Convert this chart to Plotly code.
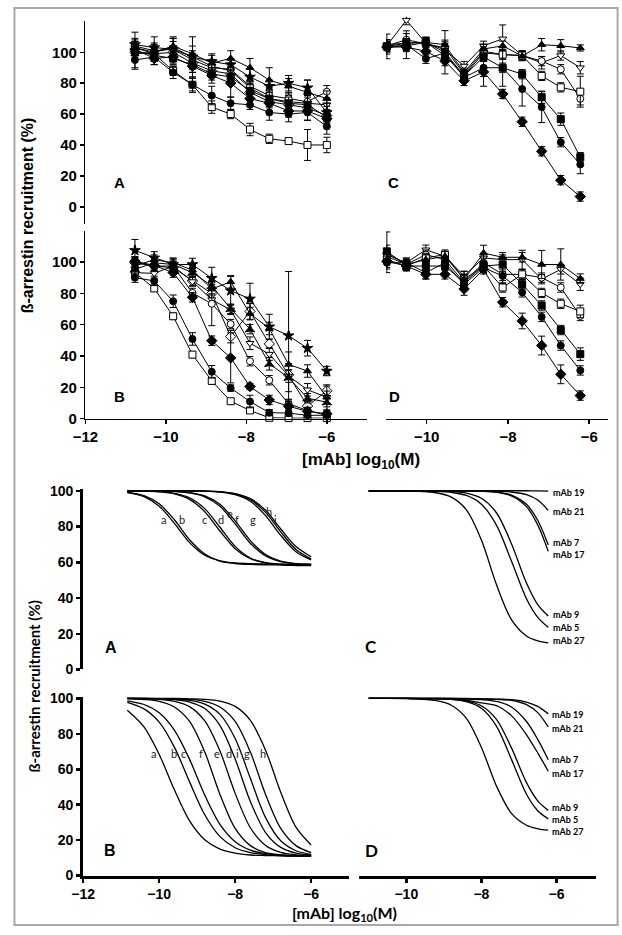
import plotly.graph_objects as go

W, H = 622, 935

# ---------------- data: top panels (measured points) ----------------
X_TOP_AB = [-10.77, -10.29, -9.82, -9.34, -8.86, -8.39, -7.91, -7.43, -6.95, -6.48, -6.0]
X_TOP_CD = [-10.98, -10.5, -10.02, -9.55, -9.08, -8.6, -8.13, -7.65, -7.17, -6.7, -6.22]

ta_sq_open = [103, 99, 88, 79, 64.5, 60, 50, 44, 42.5, 40, 40]
ta_circ_fill = [95, 97, 87, 79, 72, 67, 66, 61, 60, 61, 52]
ta_diam_fill = [102, 96, 97, 91, 85, 80, 70, 67, 62, 62, 57]
ta_sq_fill = [101, 98, 96, 92, 86, 84, 75, 70, 67, 66, 58]
ta_tri_fill = [99, 100, 104, 99, 93, 96, 90, 82, 78, 74, 70]
ta_star = [105, 103, 102, 97, 94, 92, 84, 78, 80, 77, 61]
ta_circ_open = [104, 101, 102, 95, 90, 89, 78, 72, 70, 68, 74.5]
ta_tri_down = [103, 100, 103, 97, 91, 88, 77, 70, 68, 67, 66]
ta_diam_open = [100, 99, 100, 93, 88, 86, 74, 68, 66, 64, 59]
ta_sq_open_err = [4, 4, 3, 4, 4, 3, 4, 3, 2, 10, 5]
ta_circ_fill_err = [6, 5, 4, 5, 6, 4, 3, 5, 5, 5, 5]
ta_diam_fill_err = [4, 4, 4, 4, 5, 9, 4, 5, 4, 6, 5]
ta_sq_fill_err = [3, 4, 4, 5, 4, 4, 5, 5, 4, 5, 4]
ta_tri_fill_err = [9, 6, 5, 5, 5, 5, 6, 8, 5, 8, 5]
ta_star_err = [8, 7, 8, 13, 5, 4, 5, 4, 5, 5, 6]
ta_circ_open_err = [5, 4, 5, 4, 4, 4, 4, 5, 4, 5, 4]
ta_tri_down_err = [4, 4, 6, 4, 4, 4, 4, 4, 4, 6, 4]
ta_diam_open_err = [4, 4, 4, 4, 4, 4, 4, 4, 4, 4, 4]

tb_sq_open = [93.3, 83.2, 65.4, 40.9, 24.1, 11.1, 5.2, 0.5, 0.3, 0.3, 0.3]
tb_circ_fill = [90.1, 88.0, 75.0, 50.9, 29.9, 19.5, 10.9, 3.8, 3.5, 2.1, 2.1]
tb_diam_fill = [100.6, 97.9, 93.3, 77.5, 49.8, 38.8, 20.5, 11.9, 7.9, 4.6, 3.1]
tb_circ_open = [100.0, 97.5, 97.5, 80.3, 73.4, 60.4, 36.7, 24.5, 9.4, 5.2, 2.1]
tb_diam_open = [99.6, 97.5, 96.5, 88.0, 80.0, 52.4, 68.5, 47.8, 28.0, 8.0, 17.8]
tb_tri_down = [93.3, 92.8, 97.5, 87.6, 76.0, 69.5, 48.2, 41.2, 27.2, 18.4, 13.6]
tb_star = [107.5, 102.7, 98.5, 98.5, 89.7, 81.8, 76.5, 58.7, 53.0, 45.0, 30.4]
tb_tri_fill = [97.5, 101.6, 99.6, 94.9, 82.8, 87.4, 67.1, 57.6, 34.6, 30.4, 13.6]
tb_star2 = [95.4, 99.6, 98.5, 93.3, 84.9, 70.2, 57.2, 35.0, 26.2, 13.0, 10.5]
tb_sq_open_err = [3, 2, 2, 2, 2, 1, 1, 1, 1, 1, 1]
tb_circ_fill_err = [3, 3, 4, 4, 4, 2, 4, 2, 2, 1, 1]
tb_diam_fill_err = [3, 3, 3, 3, 3, 16, 2, 3, 3, 2, 2]
tb_circ_open_err = [3, 3, 3, 3, 14, 3, 3, 3, 3, 2, 2]
tb_diam_open_err = [3, 3, 3, 3, 3, 4, 5, 3, 3, 3, 3]
tb_tri_down_err = [3, 3, 3, 3, 3, 3, 4, 4, 4, 4, 8]
tb_star_err = [7, 4, 4, 4, 7, 9, 10, 8, 41, 5, 3]
tb_tri_fill_err = [3, 3, 3, 3, 3, 4, 4, 4, 8, 4, 4]
tb_star2_err = [3, 3, 3, 3, 3, 3, 3, 4, 9, 3, 3]

tc_tri_fill = [104.9, 105.9, 106.4, 104.9, 86.8, 102.1, 104.2, 97.5, 104.9, 104.2, 102.8]
tc_tri_down = [104.2, 120.8, 105.9, 101.7, 91.1, 104.2, 108.7, 97.9, 93.2, 97.9, 90.0]
tc_circ_open = [104.2, 108.1, 105.5, 102.8, 85.8, 100.6, 98.5, 97.9, 94.3, 89.0, 69.9]
tc_sq_open = [103.8, 104.2, 106.4, 100.0, 84.7, 99.6, 98.5, 97.9, 84.7, 77.3, 74.5]
tc_sq_fill = [103.8, 105.9, 106.4, 97.9, 84.7, 97.0, 90.0, 85.8, 70.9, 56.7, 32.1]
tc_circ_fill = [102.8, 104.9, 95.8, 99.6, 83.7, 90.0, 90.0, 76.2, 64.5, 41.8, 27.4]
tc_diam_fill = [103.4, 103.4, 100.6, 94.3, 81.5, 87.3, 73.0, 55.0, 35.9, 17.2, 6.6]
tc_tri_fill_err = [3, 3, 3, 3, 3, 3, 3, 3, 4, 4, 2]
tc_tri_down_err = [4, 3, 4, 4, 3, 3, 9, 3, 4, 3, 4]
tc_circ_open_err = [4, 4, 4, 4, 3, 3, 3, 3, 3, 3, 4]
tc_sq_open_err = [8, 3, 3, 14, 3, 3, 3, 3, 3, 3, 10]
tc_sq_fill_err = [3, 3, 3, 3, 3, 3, 3, 3, 4, 4, 3]
tc_circ_fill_err = [4, 9, 3, 3, 3, 12, 12, 11, 10, 3, 6]
tc_diam_fill_err = [3, 3, 3, 3, 3, 3, 3, 3, 3, 3, 3]

td_tri_fill = [106.3, 98.5, 101.6, 103.7, 89.1, 105.8, 103.1, 103.1, 98.5, 98.5, 89.5]
td_tri_down = [104.8, 99.6, 107.9, 103.7, 91.2, 102.7, 101.6, 101.6, 89.1, 95.4, 85.9]
td_circ_open = [103.7, 98.5, 104.8, 101.6, 87.0, 99.6, 92.2, 92.2, 90.1, 83.8, 65.6]
td_sq_open = [101.6, 97.5, 102.7, 104.8, 89.1, 97.5, 83.8, 92.2, 80.3, 73.4, 68.5]
td_sq_fill = [106.9, 97.5, 97.5, 97.5, 87.0, 97.5, 98.5, 85.9, 72.3, 56.6, 41.2]
td_circ_fill = [99.6, 99.6, 93.3, 99.6, 85.9, 96.4, 91.2, 80.7, 65.0, 46.7, 30.8]
td_diam_fill = [100.6, 97.5, 92.2, 92.2, 82.8, 95.4, 74.4, 62.4, 46.7, 28.3, 14.7]
td_tri_fill_err = [13, 3, 3, 3, 3, 5, 3, 3, 9, 10, 3]
td_tri_down_err = [3, 3, 3, 3, 3, 3, 3, 6, 3, 3, 4]
td_circ_open_err = [3, 3, 3, 3, 3, 3, 6, 3, 3, 3, 3]
td_sq_open_err = [3, 3, 3, 3, 5, 3, 3, 3, 3, 3, 4]
td_sq_fill_err = [4, 3, 3, 3, 3, 3, 3, 3, 3, 3, 4]
td_circ_fill_err = [4, 3, 4, 3, 3, 3, 3, 3, 3, 3, 3]
td_diam_fill_err = [4, 3, 3, 3, 4, 3, 3, 5, 6, 6, 3]

X_FIT_AB = [-10.84, -10.4, -10.0, -9.6, -9.2, -8.8, -8.4, -8.0, -7.6, -7.2, -6.8, -6.4, -6.0]
X_FIT_CD = [-11.0, -10.0, -9.2, -8.8, -8.4, -8.0, -7.6, -7.2, -6.8, -6.5, -6.22]

fa_a = [99.0, 96.7, 91.4, 81.8, 71.0, 63.9, 60.8, 59.6, 59.2, 59.1, 59.0, 59.0, 59.0]
fa_b = [99.1, 97.3, 92.7, 83.8, 72.6, 64.6, 60.7, 59.3, 58.8, 58.6, 58.5, 58.5, 58.5]
fa_c = [99.9, 99.8, 99.4, 98.3, 95.2, 88.3, 77.5, 67.6, 62.0, 59.8, 58.9, 58.6, 58.5]
fa_d = [100.0, 99.8, 99.5, 98.6, 96.1, 90.0, 79.6, 68.9, 62.4, 59.6, 58.5, 58.2, 58.1]
fa_e = [100.0, 100.0, 99.9, 99.6, 98.8, 96.6, 91.3, 81.5, 70.6, 63.5, 60.3, 59.1, 58.7]
fa_f = [100.0, 100.0, 99.9, 99.7, 99.0, 97.1, 92.4, 83.2, 72.1, 64.3, 60.6, 59.2, 58.8]
fa_g = [100.0, 100.0, 100.0, 100.0, 99.9, 99.8, 99.3, 97.8, 94.1, 86.1, 75.0, 65.9, 61.3]
fa_h = [100.0, 100.0, 100.0, 100.0, 99.9, 99.8, 99.4, 98.2, 95.0, 87.9, 77.0, 67.2, 61.9]
fa_i = [100.0, 100.0, 100.0, 100.0, 99.9, 99.8, 99.5, 98.4, 95.6, 89.1, 78.6, 68.8, 63.1]

fb_a = [93.4, 84.0, 68.4, 48.4, 30.9, 20.2, 14.9, 12.6, 11.6, 11.3, 11.1, 11.0, 11.0]
fb_b = [97.8, 94.1, 86.6, 72.5, 52.9, 34.3, 22.0, 15.7, 13.0, 11.8, 11.3, 11.1, 11.0]
fb_c = [98.7, 96.6, 91.9, 82.1, 65.6, 45.4, 28.9, 19.1, 14.4, 12.4, 11.6, 11.2, 11.1]
fb_f = [99.8, 99.4, 98.4, 95.2, 87.0, 69.7, 45.8, 26.6, 16.9, 13.0, 11.7, 11.2, 11.1]
fb_e = [100.0, 99.8, 99.5, 98.4, 95.4, 87.3, 70.3, 46.4, 27.0, 17.0, 13.1, 11.7, 11.2]
fb_d = [100.0, 99.9, 99.8, 99.3, 98.0, 94.3, 84.7, 65.8, 41.8, 24.3, 15.9, 12.7, 11.6]
fb_i = [100.0, 100.0, 99.9, 99.6, 98.9, 96.8, 91.0, 77.4, 54.9, 32.7, 19.6, 14.0, 12.0]
fb_g = [100.0, 100.0, 99.9, 99.8, 99.4, 98.4, 95.2, 87.0, 69.7, 45.8, 26.6, 16.9, 13.0]
fb_h = [100.0, 100.0, 100.0, 100.0, 99.8, 99.5, 98.5, 95.5, 87.6, 70.8, 47.0, 27.3, 17.2]

fc_mab19 = [100, 100, 100, 100, 100, 100, 100, 100, 100, 99.9, 99.8]
fc_mab21 = [100, 100, 100, 100, 100, 99.9, 99.8, 99.3, 97.8, 94.8, 89.0]
fc_mab7 = [100, 100, 100, 100, 99.9, 99.8, 99.3, 97.6, 92.4, 83.5, 69.7]
fc_mab17 = [100, 100, 100, 100, 99.9, 99.7, 99.1, 97.1, 91.1, 80.9, 66.1]
fc_mab9 = [100, 100, 99.9, 99.6, 98.7, 95.8, 87.7, 70.4, 48.4, 36.3, 29.9]
fc_mab5 = [100, 100, 99.7, 99.1, 97.4, 92.5, 80.8, 60.7, 39.6, 29.2, 23.6]
fc_mab27 = [100, 99.9, 98.9, 96.4, 89.3, 72.4, 47.5, 27.9, 18.7, 16.0, 14.9]

fd_mab19 = [100, 100, 100, 100, 100, 99.8, 99.6, 99.3, 98.0, 95.5, 91.3]
fd_mab21 = [100, 100, 100, 100, 99.9, 99.8, 99.5, 99.0, 96.5, 92.0, 83.9]
fd_mab7 = [100, 100, 100, 99.9, 99.7, 99.3, 98.3, 95.2, 87.0, 76.9, 65.4]
fd_mab17 = [100, 100, 99.8, 99.5, 99.0, 97.5, 96.0, 90.3, 79.5, 69.3, 58.9]
fd_mab9 = [100, 100, 99.9, 99.6, 98.7, 95.9, 88.2, 72.1, 52.5, 42.2, 36.8]
fd_mab5 = [100, 100, 99.8, 99.5, 98.2, 94.5, 84.4, 65.6, 45.9, 36.6, 32.0]
fd_mab27 = [100, 99.9, 98.8, 96.2, 88.8, 72.3, 50.6, 35.1, 28.4, 26.4, 25.6]

MAB_LABELS = ["mAb 19", "mAb 21", "mAb 7", "mAb 17", "mAb 9", "mAb 5", "mAb 27"]
LETTERS_A = ["a", "b", "c", "d", "e", "f", "g", "h", "i"]
LETTERS_B = ["a", "b", "c", "f", "e", "d", "i", "g", "h"]
Y_TICKS = [0, 20, 40, 60, 80, 100]
X_TICKS_AB = [-12, -10, -8, -6]
X_TICKS_CD = [-10, -8, -6]

# ---------------- helpers ----------------
def fx(p):
    return p / W


def fy(p):
    return 1 - p / H


fig = go.Figure()


def marker(symbol, filled, size):
    return dict(symbol=symbol, size=size, color="black" if filled else "white",
                line=dict(color="black", width=1))


def add_top(x, y, err, symbol, filled, xa, ya, size=7):
    fig.add_trace(go.Scatter(
        x=x, y=y, mode="lines+markers", xaxis=xa, yaxis=ya,
        line=dict(color="black", width=1), marker=marker(symbol, filled, size),
        error_y=dict(type="data", array=err, visible=True, color="black", thickness=1, width=3.5),
        cliponaxis=False, showlegend=False, hoverinfo="skip"))


def add_fit(x, y, xa, ya):
    fig.add_trace(go.Scatter(
        x=x, y=y, mode="lines", xaxis=xa, yaxis=ya,
        line=dict(color="black", width=1.3, shape="spline", smoothing=0.9),
        showlegend=False, hoverinfo="skip"))


# top A (x / y)
for ys, er, sym, fl, sz in [
    (ta_diam_open, ta_diam_open_err, "diamond", False, 8),
    (ta_tri_down, ta_tri_down_err, "triangle-down", False, 7),
    (ta_circ_open, ta_circ_open_err, "circle", False, 7),
    (ta_sq_open, ta_sq_open_err, "square", False, 7),
    (ta_star, ta_star_err, "star", True, 8),
    (ta_tri_fill, ta_tri_fill_err, "triangle-up", True, 7),
    (ta_sq_fill, ta_sq_fill_err, "square", True, 7),
    (ta_diam_fill, ta_diam_fill_err, "diamond", True, 8),
    (ta_circ_fill, ta_circ_fill_err, "circle", True, 7)]:
    add_top(X_TOP_AB, ys, er, sym, fl, "x", "y", sz)

# top C (x2 / y2)
for ys, er, sym, fl, sz in [
    (tc_tri_down, tc_tri_down_err, "triangle-down", False, 7),
    (tc_circ_open, tc_circ_open_err, "circle", False, 7),
    (tc_sq_open, tc_sq_open_err, "square", False, 7),
    (tc_tri_fill, tc_tri_fill_err, "triangle-up", True, 7),
    (tc_sq_fill, tc_sq_fill_err, "square", True, 7),
    (tc_circ_fill, tc_circ_fill_err, "circle", True, 7),
    (tc_diam_fill, tc_diam_fill_err, "diamond", True, 8)]:
    add_top(X_TOP_CD, ys, er, sym, fl, "x2", "y2", sz)

# top B (x3 / y3)
for ys, er, sym, fl, sz in [
    (tb_diam_open, tb_diam_open_err, "diamond", False, 8),
    (tb_tri_down, tb_tri_down_err, "triangle-down", False, 7),
    (tb_circ_open, tb_circ_open_err, "circle", False, 7),
    (tb_sq_open, tb_sq_open_err, "square", False, 7),
    (tb_star, tb_star_err, "star", True, 8),
    (tb_star2, tb_star2_err, "star-triangle-up", True, 7),
    (tb_tri_fill, tb_tri_fill_err, "triangle-up", True, 7),
    (tb_diam_fill, tb_diam_fill_err, "diamond", True, 8),
    (tb_circ_fill, tb_circ_fill_err, "circle", True, 7)]:
    add_top(X_TOP_AB, ys, er, sym, fl, "x3", "y3", sz)

# top D (x4 / y4)
for ys, er, sym, fl, sz in [
    (td_tri_down, td_tri_down_err, "triangle-down", False, 7),
    (td_circ_open, td_circ_open_err, "circle", False, 7),
    (td_sq_open, td_sq_open_err, "square", False, 7),
    (td_tri_fill, td_tri_fill_err, "triangle-up", True, 7),
    (td_sq_fill, td_sq_fill_err, "square", True, 7),
    (td_circ_fill, td_circ_fill_err, "circle", True, 7),
    (td_diam_fill, td_diam_fill_err, "diamond", True, 8)]:
    add_top(X_TOP_CD, ys, er, sym, fl, "x4", "y4", sz)

# bottom fitted curves
for ys in [fa_a, fa_b, fa_c, fa_d, fa_e, fa_f, fa_g, fa_h, fa_i]:
    add_fit(X_FIT_AB, ys, "x5", "y5")
for ys in [fc_mab19, fc_mab21, fc_mab7, fc_mab17, fc_mab9, fc_mab5, fc_mab27]:
    add_fit(X_FIT_CD, ys, "x6", "y6")
for ys in [fb_a, fb_b, fb_c, fb_f, fb_e, fb_d, fb_i, fb_g, fb_h]:
    add_fit(X_FIT_AB, ys, "x7", "y7")
for ys in [fd_mab19, fd_mab21, fd_mab7, fd_mab17, fd_mab9, fd_mab5, fd_mab27]:
    add_fit(X_FIT_CD, ys, "x8", "y8")

# ---------------- axes ----------------
TOP_TICK = dict(family="Liberation Sans, Arial, sans-serif", size=15, color="black", weight="bold")
BOT_TICK = dict(family="Liberation Sans, Arial, sans-serif", size=14, color="black", weight="bold")


def xdom(a, b):
    return [a / W, b / W]


def ydom(top, bot):
    return [1 - bot / H, 1 - top / H]


hidden = dict(visible=False, showgrid=False, zeroline=False)


def top_axis(**kw):
    d = dict(showline=True, linecolor="black", linewidth=1.5, ticks="outside", ticklen=4,
             tickwidth=1.5, tickcolor="black", showgrid=False, zeroline=False,
             tickfont=TOP_TICK, fixedrange=True)
    d.update(kw)
    return d


def bot_axis(**kw):
    d = dict(showline=True, linecolor="black", linewidth=3, ticks="outside", ticklen=4,
             tickwidth=2.5, tickcolor="black", showgrid=False, zeroline=False,
             tickfont=BOT_TICK, fixedrange=True)
    d.update(kw)
    return d


layout_axes = dict(
    # top A
    xaxis=dict(domain=xdom(74, 361.6), range=[-12, -5], anchor="y", **hidden),
    yaxis=top_axis(domain=ydom(14.6, 220.3), range=[-11, 120], tickvals=Y_TICKS, anchor="x"),
    # top C
    xaxis2=dict(domain=xdom(381, 607.2), range=[-11, -5.55], anchor="y2", **hidden),
    yaxis2=dict(domain=ydom(9.9, 220.3), range=[-11, 123], anchor="x2", **hidden),
    # top B
    xaxis3=top_axis(domain=xdom(74, 361.6), range=[-12, -5], tickvals=X_TICKS_AB, anchor="y3"),
    yaxis3=top_axis(domain=ydom(227.5, 418.3), range=[0, 120], tickvals=Y_TICKS, anchor="x3"),
    # top D
    xaxis4=top_axis(domain=xdom(381, 607.2), range=[-11, -5.55], tickvals=X_TICKS_CD, anchor="y4"),
    yaxis4=dict(domain=ydom(227.5, 418.3), range=[0, 120], anchor="x4", **hidden),
    # bottom A
    xaxis5=dict(domain=xdom(71.7, 343.3), range=[-12, -5], anchor="y5", **hidden),
    yaxis5=bot_axis(domain=ydom(490.2, 673.3), range=[0, 100.8], tickvals=Y_TICKS, anchor="x5"),
    # bottom C
    xaxis6=dict(domain=xdom(353, 595), range=[-11.27, -4.96], anchor="y6", **hidden),
    yaxis6=dict(domain=ydom(490.2, 673.3), range=[0, 100.8], anchor="x6", **hidden),
    # bottom B
    xaxis7=bot_axis(domain=xdom(71.7, 343.3), range=[-12, -5], tickvals=X_TICKS_AB, anchor="y7"),
    yaxis7=bot_axis(domain=ydom(701.3, 882.7), range=[0, 100.8], tickvals=Y_TICKS, anchor="x7"),
    # bottom D
    xaxis8=bot_axis(domain=xdom(353, 595), range=[-11.27, -4.96], tickvals=X_TICKS_CD, anchor="y8"),
    yaxis8=dict(domain=ydom(701.3, 882.7), range=[0, 100.8], anchor="x8", **hidden),
)

# ---------------- annotations ----------------
ann = []


def text(x, y, s, size, family="Liberation Sans, Arial, sans-serif", weight="bold",
         angle=0, xanchor="center", color="black"):
    ann.append(dict(x=fx(x), y=fy(y), xref="paper", yref="paper", text=s, showarrow=False,
                    textangle=angle, xanchor=xanchor, yanchor="middle",
                    font=dict(family=family, size=size, color=color, weight=weight)))


LATO = "Lato, Carlito, sans-serif"
# titles
text(15, 212, "ß-arrestin recruitment (%)", 16, angle=-90)
text(355, 461, "[mAb] log<sub>10</sub>(M)", 17)
text(21, 691, "ß-arrestin recruitment (%)", 15, family=LATO, angle=-90)
text(339, 921, "[mAb] log<sub>10</sub>(M)", 16, family=LATO)
# panel letters
text(109, 178, "A", 15)
text(389, 178, "C", 15)
text(109, 396, "B", 15)
text(390, 396, "D", 15)
text(100, 651, "A", 16)
text(99.5, 857, "B", 16)
text(366, 650, "C", 17, family=LATO)
text(366, 857, "D", 17, family=LATO)

# curve letters, bottom A and B
LETTER_POS_A = [(154, 521), (173, 521), (196, 521), (212, 521), (222, 515), (229, 521),
                (245, 521), (261, 513), (268, 521)]
for s, (px_, py_) in zip(LETTERS_A, LETTER_POS_A):
    text(px_, py_, s, 11, family=LATO, weight="normal", color="#222")
LETTER_POS_B = [(144, 759), (164, 759), (174, 759), (192, 759), (208, 759), (221, 759),
                (229, 759), (239, 759), (255, 759)]
for s, (px_, py_) in zip(LETTERS_B, LETTER_POS_B):
    text(px_, py_, s, 11, family=LATO, weight="normal", color="#222")

# mAb labels, bottom C and D
MAB_Y_C = [493.3, 512.7, 544, 556.7, 617, 630.5, 644]
MAB_Y_D = [719, 733.3, 765, 779.3, 813.5, 825.5, 837.5]
for s, yy in zip(MAB_LABELS, MAB_Y_C):
    text(549, yy, s, 9, family=LATO, xanchor="left")
for s, yy in zip(MAB_LABELS, MAB_Y_D):
    text(548, yy, s, 9, family=LATO, xanchor="left")

fig.update_layout(
    width=W, height=H, autosize=False,
    margin=dict(l=0, r=0, t=0, b=0),
    paper_bgcolor="white", plot_bgcolor="rgba(0,0,0,0)",
    showlegend=False, annotations=ann,
    shapes=[dict(type="rect", xref="paper", yref="paper",
                 x0=fx(1.5), x1=fx(617.5), y0=fy(933), y1=fy(1),
                 line=dict(color="#a8a8a8", width=2), fillcolor="rgba(0,0,0,0)")],
    **layout_axes,
)

fig.write_html("out.html", config={"displayModeBar": False, "staticPlot": True},
               post_script="document.body.style.margin='0px';")
